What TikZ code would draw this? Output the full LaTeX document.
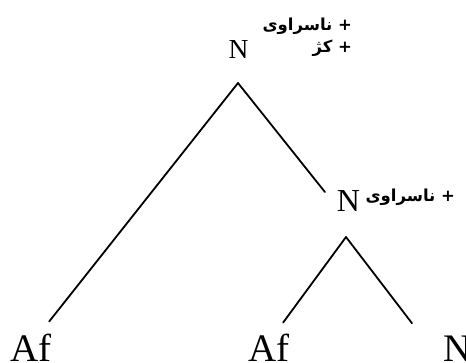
\documentclass[tikz,border=0pt]{standalone}
\usepackage{fontspec}
\setmainfont{Liberation Serif}
\newfontfamily\arabicfont[Script=Arabic]{DejaVu Sans}
\TeXXeTstate=1
\begin{document}
\begin{tikzpicture}[x=1pt,y=1pt,
  cat/.style={inner sep=0pt, outer sep=0pt, anchor=base},
  leaf/.style={inner sep=0pt, outer sep=0pt, anchor=base west, font=\fontsize{39}{41}\selectfont},
  feat/.style={inner sep=0pt, outer sep=0pt, align=right, font=\arabicfont\bfseries\fontsize{16.5}{22}\selectfont},
  branch/.style={line width=1.8pt, line cap=round}]
\useasboundingbox (0,0) rectangle (466,362);
% category nodes
\node[cat, font=\fontsize{27.5}{29}\selectfont] (n1) at (238.5,303) {N};
\node[cat, font=\fontsize{32}{34}\selectfont] (n2) at (348.5,150) {N};
% leaves
\node[leaf] (af1) at (10,0.5) {Af};
\node[leaf] (af2) at (248,0.5) {Af};
\node[leaf] (n3) at (443,0.5) {N};
% feature labels
\node[feat, anchor=east] (f1) at (352,324.5) {\beginR + ناسراوی\endR\\\beginR + کژ\endR};
\node[feat, anchor=east] (f2) at (455,164.5) {\beginR + ناسراوی\endR};
% branches
\draw[branch] ([shift={(-0.5pt,-24pt)}]n1.south) -- ([shift={(-2pt,12.5pt)}]af1.north east);
\draw[branch] ([shift={(-0.5pt,-24pt)}]n1.south) -- ([shift={(-12pt,-1pt)}]n2.north west);
\draw[branch] ([shift={(-2.5pt,-25pt)}]n2.south) -- ([shift={(-6pt,11.5pt)}]af2.north east);
\draw[branch] ([shift={(-2.5pt,-25pt)}]n2.south) -- ([shift={(-31pt,12.7pt)}]n3.north west);
\end{tikzpicture}
\end{document}
